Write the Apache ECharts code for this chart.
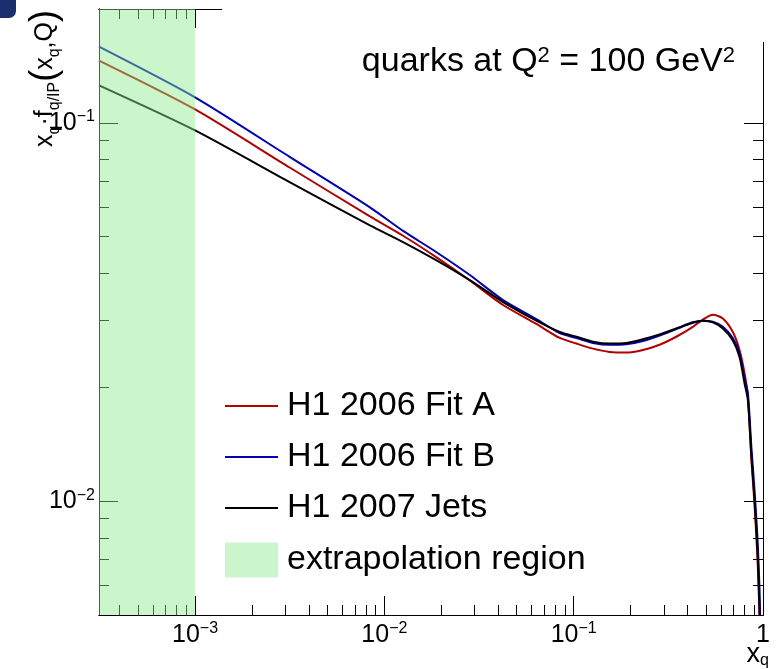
<!DOCTYPE html>
<html><head><meta charset="utf-8">
<script src="https://cdn.jsdelivr.net/npm/echarts@6/dist/echarts.min.js"></script>
<style>html,body{margin:0;padding:0;background:#fff}#c{width:781px;height:669px}</style>
</head><body><div id="c"></div>
<script>
// ---- data ----
const xValues = [3.11e-4, 1e-3, 3.16e-3, 8.39e-3, 0.01256, 0.01886, 0.02827, 0.04237, 0.0635, 0.0844, 0.1033, 0.1265, 0.1549, 0.1897, 0.2322, 0.2843, 0.3481, 0.4262, 0.4812, 0.5434, 0.6135, 0.693, 0.7516, 0.7988, 0.832, 0.869, 0.902, 0.936, 0.959, 0.98];
const fitA = [0.146, 0.1085, 0.0762, 0.0566, 0.0503, 0.0441, 0.0383, 0.0330, 0.0294, 0.0270, 0.0261, 0.0253, 0.0248, 0.0247, 0.0251, 0.0259, 0.0272, 0.0289, 0.0302, 0.0311, 0.0304, 0.0280, 0.0251, 0.0218, 0.0189, 0.0128, 0.0098, 0.0070, 0.0049, 0.0028];
const fitB = [0.159, 0.1168, 0.0813, 0.0598, 0.0518, 0.0455, 0.0396, 0.0340, 0.0303, 0.0278, 0.0270, 0.0262, 0.0259, 0.0260, 0.0265, 0.0274, 0.0285, 0.0296, 0.0300, 0.0298, 0.0289, 0.0270, 0.0246, 0.0211, 0.0193, 0.0138, 0.0107, 0.0079, 0.0058, 0.0035];
const jets = [0.1256, 0.0955, 0.0697, 0.0536, 0.0484, 0.0433, 0.0384, 0.0336, 0.0300, 0.0280, 0.0272, 0.0264, 0.0261, 0.0262, 0.0268, 0.0276, 0.0286, 0.0297, 0.0300, 0.0297, 0.0286, 0.0266, 0.02406, 0.0205, 0.0185, 0.0131, 0.0101, 0.0073, 0.0051, 0.0030];
const seriesNames = ['H1 2006 Fit A', 'H1 2006 Fit B', 'H1 2007 Jets'];
const regionName = 'extrapolation region';
const extrapolationRange = [3.11e-4, 1e-3];
const xRange = [3.11e-4, 1];
const yRange = [0.005, 0.2];
const xMajorTicks = [1e-3, 1e-2, 1e-1, 1];
const yMajorTicks = [0.01, 0.1];
const xMinorTicks = [];
for (let d = -4; d <= -1; d++) for (let k = 2; k <= 9; k++) { const v = k * Math.pow(10, d); if (v > xRange[0] && v < xRange[1]) xMinorTicks.push(+v.toPrecision(3)); }
const yMinorTicks = [];
for (let d = -3; d <= -1; d++) for (let k = 2; k <= 9; k++) { const v = k * Math.pow(10, d); if (v > yRange[0] && v < yRange[1]) yMinorTicks.push(+v.toPrecision(3)); }

// ---- styling ----
const FONT = '"Liberation Sans", Arial, Helvetica, sans-serif';
const colors = ['#b00000', '#0000b0', '#000000'];
const regionColor = 'rgba(140,235,140,0.45)';

function supLabel(v) {
  const e = Math.round(Math.log10(v));
  if (e === 0) return '{b|1}';
  return '{b|10}{s|\u2212' + (-e) + '}';
}
const richLab = {
  b: { fontSize: 25, fontFamily: FONT, color: '#000', verticalAlign: 'middle', lineHeight: 28 },
  s: { fontSize: 16, fontFamily: FONT, color: '#000', verticalAlign: 'top', lineHeight: 16 }
};
function xAx(pos, ticks, len, showLabel) {
  return { type: 'log', logBase: 10, min: xRange[0], max: xRange[1], position: pos, gridIndex: 0,
    axisLine: { show: true, onZero: false, lineStyle: { color: '#000', width: 1 } },
    axisTick: { show: true, inside: true, length: len, customValues: ticks, lineStyle: { color: '#000', width: 1 } },
    axisLabel: { show: showLabel, customValues: ticks, formatter: supLabel, rich: richLab, margin: 6 },
    splitLine: { show: false }, minorTick: { show: false }, minorSplitLine: { show: false } };
}
function yAx(pos, ticks, len, showLabel) {
  return { type: 'log', logBase: 10, min: yRange[0], max: yRange[1], position: pos, gridIndex: 0,
    axisLine: { show: true, onZero: false, lineStyle: { color: '#000', width: 1 } },
    axisTick: { show: true, inside: true, length: len, customValues: ticks, lineStyle: { color: '#000', width: 1 } },
    axisLabel: { show: showLabel, customValues: ticks, formatter: supLabel, rich: richLab, margin: 4 },
    splitLine: { show: false }, minorTick: { show: false }, minorSplitLine: { show: false } };
}
const pairs = ys => xValues.map((x, i) => [x, ys[i]]);
function lineSeries(name, ys, color) {
  return { type: 'line', name: name, data: pairs(ys), xAxisIndex: 0, yAxisIndex: 0, symbol: 'none', showSymbol: false,
    smooth: 0.25, clip: true, z: 3,
    lineStyle: { color: color, width: 2 }, itemStyle: { color: color }, emphasis: { disabled: true } };
}

const chart = echarts.init(document.getElementById('c'), null, { renderer: 'canvas' });
chart.setOption({
  animation: false,
  backgroundColor: '#fff',
  grid: { left: 99, right: 18, top: 9, bottom: 54, containLabel: false },
  xAxis: [xAx('bottom', xMajorTicks, 19, true), xAx('bottom', xMinorTicks, 10, false), xAx('top', xMajorTicks, 19, false), xAx('top', xMinorTicks, 10, false)],
  yAxis: [yAx('left', yMajorTicks, 19, true), yAx('left', yMinorTicks, 10, false), yAx('right', yMajorTicks, 19, false), yAx('right', yMinorTicks, 10, false)],
  legend: [
    { left: 225, top: 386, orient: 'vertical', padding: 0, itemWidth: 53, itemHeight: 2, itemGap: 11, icon: 'rect', selectedMode: false,
      data: seriesNames, textStyle: { fontSize: 34, fontFamily: FONT, color: '#000', lineHeight: 40, padding: [0, 0, 0, 4] } },
    { left: 225, top: 540, orient: 'vertical', padding: 0, itemWidth: 53, itemHeight: 35, selectedMode: false,
      data: [{ name: regionName, icon: 'rect', itemStyle: { color: regionColor } }], textStyle: { fontSize: 34, fontFamily: FONT, color: '#000', lineHeight: 40, padding: [0, 0, 0, 4] } }
  ],
  series: [
    lineSeries(seriesNames[0], fitA, colors[0]),
    lineSeries(seriesNames[1], fitB, colors[1]),
    lineSeries(seriesNames[2], jets, colors[2]),
    { type: 'line', name: regionName, data: [], xAxisIndex: 0, yAxisIndex: 0, itemStyle: { color: regionColor }, z: 5,
      markArea: { silent: true, z: 5, itemStyle: { color: regionColor, opacity: 1, borderWidth: 0 },
        data: [[{ xAxis: extrapolationRange[0] }, { xAxis: extrapolationRange[1] }]] } }
  ],
  graphic: [
    { type: 'rect', left: 222, top: 0, shape: { width: 560, height: 42 }, style: { fill: '#fff' }, z: 100 },
    { type: 'rect', shape: { x: -10, y: -10, width: 26, height: 28, r: 7 }, style: { fill: '#1b2f6e' }, z: 100 },
    { type: 'text', x: 735, y: 62, z: 101, style: { text: '{t|quarks at Q}{s|2}{t| = 100 GeV}{s|2}', align: 'right', verticalAlign: 'middle',
      rich: { t: { fontSize: 34, fontFamily: FONT, fill: '#000', lineHeight: 34, verticalAlign: 'middle' }, s: { fontSize: 22, fontFamily: FONT, fill: '#000', lineHeight: 22, verticalAlign: 'top' } } } },
    { type: 'text', x: 45, y: 10, rotation: Math.PI / 2, z: 101, style: { text: '{m|x}{u|q}{m|\u00b7f}{u|q/IP}{p|(}{m|x}{u|q}{m|,Q}{p|)}', align: 'right', verticalAlign: 'middle',
      rich: { m: { fontSize: 25, fontFamily: FONT, fill: '#000', verticalAlign: 'middle', lineHeight: 34 }, u: { fontSize: 16, fontFamily: FONT, fill: '#000', verticalAlign: 'bottom', lineHeight: 16 }, p: { fontSize: 36, fontFamily: FONT, fill: '#000', verticalAlign: 'middle', lineHeight: 36 } } } },
    { type: 'text', x: 769, y: 655, z: 101, style: { text: '{m|x}{u|q}', align: 'right', verticalAlign: 'middle',
      rich: { m: { fontSize: 27, fontFamily: FONT, fill: '#000', verticalAlign: 'middle', lineHeight: 28 }, u: { fontSize: 16, fontFamily: FONT, fill: '#000', verticalAlign: 'bottom', lineHeight: 16 } } } }
  ]
});
</script></body></html>
